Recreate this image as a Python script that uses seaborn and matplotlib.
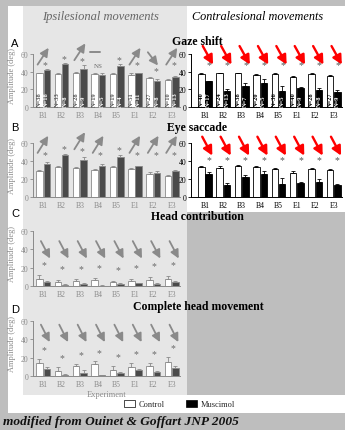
import numpy as np
import pandas as pd
import matplotlib
matplotlib.use("Agg")
import matplotlib.pyplot as plt
import seaborn as sns
from matplotlib.patches import Rectangle, Patch

# experiments on the x axis
experiments = ["B1", "B2", "B3", "B4", "B5", "E1", "E2", "E3"]

# A - gaze shift (ipsi / contra), mean and upper error
gaze_ipsi_ctrl = [38, 37, 38, 37, 37, 36, 33, 31]
gaze_ipsi_ctrl_err = [1, 1, 1.5, 1, 1, 2, 1, 1]
gaze_ipsi_musc = [42, 49, 43, 36, 46, 38, 30, 34]
gaze_ipsi_musc_err = [1, 1, 5, 2, 3, 1, 2, 1.5]
gaze_ipsi_n_ctrl = [38, 33, 28, 19, 19, 51, 27, 10]
gaze_ipsi_n_musc = [18, 8, 9, 5, 4, 11, 8, 13]
gaze_ipsi_dir = ["up", "up", "up", "ns", "up", "up", "down", "up"]

gaze_contra_ctrl = [37, 38, 38, 36, 37, 34, 37, 35]
gaze_contra_ctrl_err = [1, 1, 1, 1, 1, 1, 2, 1]
gaze_contra_musc = [29, 18, 24, 27, 18, 21, 19, 17]
gaze_contra_musc_err = [1, 2.5, 3, 5, 6, 1.5, 3, 2.5]
gaze_contra_n_ctrl = [40, 24, 38, 20, 36, 40, 28, 27]
gaze_contra_n_musc = [17, 13, 7, 5, 5, 9, 8, 9]

# B - eye saccade
eye_ipsi_ctrl = [29, 33, 32, 30, 33, 31, 26, 23]
eye_ipsi_ctrl_err = [1.5, 2, 1.5, 1.5, 1.5, 1, 2, 1.5]
eye_ipsi_musc = [37, 47, 41, 35, 44, 34, 27, 29]
eye_ipsi_musc_err = [2, 1, 4, 2, 3, 0.5, 2, 1.5]

eye_contra_ctrl = [33, 32, 34, 33, 31, 27, 31, 30]
eye_contra_ctrl_err = [2, 2, 2, 2, 1, 1.5, 1.5, 1.5]
eye_contra_musc = [26, 13, 22, 26, 15, 16, 17, 13]
eye_contra_musc_err = [1.5, 3, 2, 3, 6, 1, 2.5, 1]

# C - head contribution (ipsi)
head_ctrl = [8, 4, 6, 7, 4, 6, 7, 8]
head_ctrl_err = [3.5, 2.5, 1.5, 1.5, 1.5, 2, 3, 3]
head_musc = [4, 1.5, 2, 0.5, 2, 3, 2, 4]
head_musc_err = [1.5, 0.5, 1, 0.3, 0.8, 0.7, 1, 1.5]

# D - complete head movement (ipsi)
chead_ctrl = [14, 6, 11, 13, 7, 10, 11, 15]
chead_ctrl_err = [5, 4, 2, 3, 4, 4, 3, 6]
chead_musc = [8, 1.5, 3, 1, 3, 7, 4, 9]
chead_musc_err = [2, 0.5, 4, 0.3, 1, 1, 2, 2]

W, H = 345, 431
OUTER = "#bebebe"
IPSI_BG = "#e6e6e6"
GRAY = "#8a8a8a"
STAR_GRAY = "#6a6a6a"

sns.set_style("ticks")
plt.rcParams["font.family"] = ["Liberation Serif", "DejaVu Serif"]

fig = plt.figure(figsize=(W / 100, H / 100), dpi=100, facecolor=OUTER)


def px_rect(x0, y0, x1, y1):
    return [x0 / W, 1 - y1 / H, (x1 - x0) / W, (y1 - y0) / H]


def bg(x0, y0, x1, y1, color):
    r = px_rect(x0, y0, x1, y1)
    fig.add_artist(Rectangle((r[0], r[1]), r[2], r[3], transform=fig.transFigure,
                             facecolor=color, edgecolor="none", zorder=-5))


bg(8, 7, 345, 414, "white")
bg(23, 7, 187, 396, IPSI_BG)
bg(187, 213, 345, 396, OUTER)


def make_ax(x0, x1, zero_y, sixty_y, xlo):
    scale = (zero_y - sixty_y) / 60.0
    top = zero_y - 72 * scale
    ax = fig.add_axes(px_rect(x0, top, x1, zero_y))
    ax.set_facecolor("none")
    ax.set_xlim(xlo, 7.45)
    return ax


def draw_bars(ax, ctrl, ctrl_err, musc, musc_err, ipsi):
    df = pd.DataFrame({
        "exp": experiments * 2,
        "amp": ctrl + musc,
        "cond": ["Control"] * len(ctrl) + ["Muscimol"] * len(musc),
    })
    dark = "#4a4a4a" if ipsi else "black"
    edge = GRAY if ipsi else "black"
    xlo = ax.get_xlim()[0]
    sns.barplot(data=df, x="exp", y="amp", hue="cond", order=experiments,
                hue_order=["Control", "Muscimol"],
                palette={"Control": "white", "Muscimol": dark},
                width=0.8, gap=0.12, edgecolor=edge, linewidth=0.6,
                errorbar=None, legend=False, ax=ax)
    ax.set_xlim(xlo, 7.45)
    bars = sorted(ax.patches, key=lambda p: p.get_x())
    xs = np.array([p.get_x() + p.get_width() / 2 for p in bars])
    hs = np.array([p.get_height() for p in bars])
    errs = np.ravel(np.column_stack([ctrl_err, musc_err]))
    ax.errorbar(xs, hs, yerr=[np.zeros_like(errs), errs], fmt="none",
                ecolor=edge, elinewidth=0.6, capsize=1.5, capthick=0.6, zorder=3)
    return xs, hs + errs


def style_ax(ax, ipsi, xlabel=None, ylabel=True):
    c = GRAY if ipsi else "black"
    ax.set_ylim(0, 72)
    ax.set_yticks([0, 20, 40, 60])
    sns.despine(ax=ax)
    ax.spines["left"].set_bounds(0, 60)
    for s in ("left", "bottom"):
        ax.spines[s].set_color(c)
        ax.spines[s].set_linewidth(0.7)
    ax.tick_params(axis="y", length=2, width=0.6, pad=1.5, labelsize=5.5,
                   colors=c, labelcolor=c)
    ax.tick_params(axis="x", length=0, pad=3, labelsize=5.5, labelcolor=c)
    ax.set_xlabel(xlabel if xlabel else "", fontsize=6, color=GRAY, labelpad=1)
    if ylabel:
        ax.set_ylabel("Amplitude (deg)", fontsize=6, color=GRAY, labelpad=3)
    else:
        ax.set_ylabel("")


def arrow(ax, start, end, color, lw, head=(0.5, 0.25)):
    ax.annotate("", xy=end, xytext=start,
                arrowprops=dict(arrowstyle=f"-|>,head_length={head[0]},head_width={head[1]}",
                                color=color, lw=lw, mutation_scale=10,
                                shrinkA=0, shrinkB=0))


def star(ax, x, y, color):
    ax.text(x, y, "*", ha="center", va="center", fontsize=7, color=color)


def n_labels(ax, xs, n_ctrl, n_musc, ipsi):
    ns = np.ravel(np.column_stack([n_ctrl, n_musc]))
    for k, (x, n) in enumerate(zip(xs, ns)):
        if k % 2 == 0:
            col = "#555555" if ipsi else "black"
        else:
            col = "white"
        ax.text(x, 1.2, f"N={n}", rotation=90, ha="center", va="bottom",
                fontsize=4.6, fontweight="bold", color=col)


LEFT = (33, 180, -0.55)
RIGHT = (191, 342, -0.76)
RED = "#ff0000"

# ---- A: gaze shift
axA1 = make_ax(LEFT[0], LEFT[1], 108, 55, LEFT[2])
xs, tops = draw_bars(axA1, gaze_ipsi_ctrl, gaze_ipsi_ctrl_err,
                     gaze_ipsi_musc, gaze_ipsi_musc_err, True)
n_labels(axA1, xs, gaze_ipsi_n_ctrl, gaze_ipsi_n_musc, True)
style_ax(axA1, True)
for i, d in enumerate(gaze_ipsi_dir):
    top = max(tops[2 * i], tops[2 * i + 1])
    lo = max(48, top + 5)
    if d == "up":
        arrow(axA1, (i - 0.3, lo), (i + 0.3, lo + 19), GRAY, 1.3)
        star(axA1, i + 0.12, lo, STAR_GRAY)
    elif d == "down":
        arrow(axA1, (i - 0.3, lo + 14), (i + 0.25, lo - 1), GRAY, 1.3)
        star(axA1, i + 0.12, lo - 7, STAR_GRAY)
    else:
        axA1.plot([i - 0.45, i + 0.1], [62, 62], color=GRAY, lw=1.4)
        axA1.text(i, 47, "NS", ha="center", va="center", fontsize=5, color=STAR_GRAY)

axA2 = make_ax(RIGHT[0], RIGHT[1], 108, 55, RIGHT[2])
xs, tops = draw_bars(axA2, gaze_contra_ctrl, gaze_contra_ctrl_err,
                     gaze_contra_musc, gaze_contra_musc_err, False)
n_labels(axA2, xs, gaze_contra_n_ctrl, gaze_contra_n_musc, False)
style_ax(axA2, False, ylabel=False)
for i in range(len(experiments)):
    arrow(axA2, (i - 0.12, 69), (i + 0.44, 48), RED, 1.7, head=(0.55, 0.28))
    star(axA2, i + 0.22, 48, "#555555")

# ---- B: eye saccade
axB1 = make_ax(LEFT[0], LEFT[1], 198, 144, LEFT[2])
xs, tops = draw_bars(axB1, eye_ipsi_ctrl, eye_ipsi_ctrl_err,
                     eye_ipsi_musc, eye_ipsi_musc_err, True)
style_ax(axB1, True)
for i in range(len(experiments)):
    top = max(tops[2 * i], tops[2 * i + 1])
    lo = max(49, top + 8)
    arrow(axB1, (i - 0.3, lo), (i + 0.28, lo + 19), GRAY, 1.3)
    star(axB1, i + 0.12, lo - 2, STAR_GRAY)

axB2 = make_ax(RIGHT[0], RIGHT[1], 198, 144, RIGHT[2])
xs, tops = draw_bars(axB2, eye_contra_ctrl, eye_contra_ctrl_err,
                     eye_contra_musc, eye_contra_musc_err, False)
style_ax(axB2, False, ylabel=False)
for i in range(len(experiments)):
    arrow(axB2, (i - 0.15, 67), (i + 0.4, 46), RED, 1.7, head=(0.55, 0.28))
    star(axB2, i + 0.2, 42, "#555555")

# ---- C: head contribution
axC = make_ax(LEFT[0], LEFT[1], 287, 232, LEFT[2])
xs, tops = draw_bars(axC, head_ctrl, head_ctrl_err, head_musc, head_musc_err, True)
style_ax(axC, True)
for i in range(len(experiments)):
    top = max(tops[2 * i], tops[2 * i + 1])
    arrow(axC, (i - 0.12, 49), (i + 0.38, 30), GRAY, 1.3)
    star(axC, i + 0.05, top + 12, STAR_GRAY)

# ---- D: complete head movement
axD = make_ax(LEFT[0], LEFT[1], 377, 322, LEFT[2])
xs, tops = draw_bars(axD, chead_ctrl, chead_ctrl_err, chead_musc, chead_musc_err, True)
style_ax(axD, True, xlabel="Experiment")
for i in range(len(experiments)):
    top = max(tops[2 * i], tops[2 * i + 1])
    arrow(axD, (i - 0.12, 56), (i + 0.36, 37), GRAY, 1.3)
    star(axD, i + 0.05, top + 10, STAR_GRAY)


def ftext(x, y, s, **kw):
    fig.text(x / W, 1 - y / H, s, **kw)


# titles
ftext(100, 17, "Ipsilesional movements", ha="center", va="center",
      fontsize=9, style="italic", color="#666666")
ftext(258, 17, "Contralesional movements", ha="center", va="center",
      fontsize=8.8, style="italic", color="black")
ftext(197, 42, "Gaze shift", ha="center", va="center", fontsize=8.5,
      fontweight="bold", color="black")
ftext(197, 128, "Eye saccade", ha="center", va="center", fontsize=8.5,
      fontweight="bold", color="black")
ftext(197, 217, "Head contribution", ha="center", va="center", fontsize=8.5,
      fontweight="bold", color="black")
ftext(198, 307, "Complete head movement", ha="center", va="center", fontsize=8.5,
      fontweight="bold", color="black")

# panel letters
for letter, y in zip("ABCD", [44, 128, 214, 310]):
    ftext(15, y, letter, ha="center", va="center", fontsize=8,
          family=["Liberation Sans", "DejaVu Sans"], color="black")

# legend
handles = [Patch(facecolor="white", edgecolor="black", linewidth=0.5, label="Control"),
           Patch(facecolor="black", edgecolor="black", linewidth=0.5, label="Muscimol")]
fig.legend(handles=handles, loc="center", bbox_to_anchor=(0.52, 1 - 405 / H),
           ncol=2, frameon=False, fontsize=6, handlelength=1.3, handleheight=1.0,
           handletextpad=0.5, columnspacing=2.5)

ftext(3, 422, "modified from Ouinet & Goffart JNP 2005", ha="left", va="center",
      fontsize=9.6, style="italic", fontweight="bold", color="#111111")

fig.savefig("out.png", dpi=100, facecolor=OUTER)
